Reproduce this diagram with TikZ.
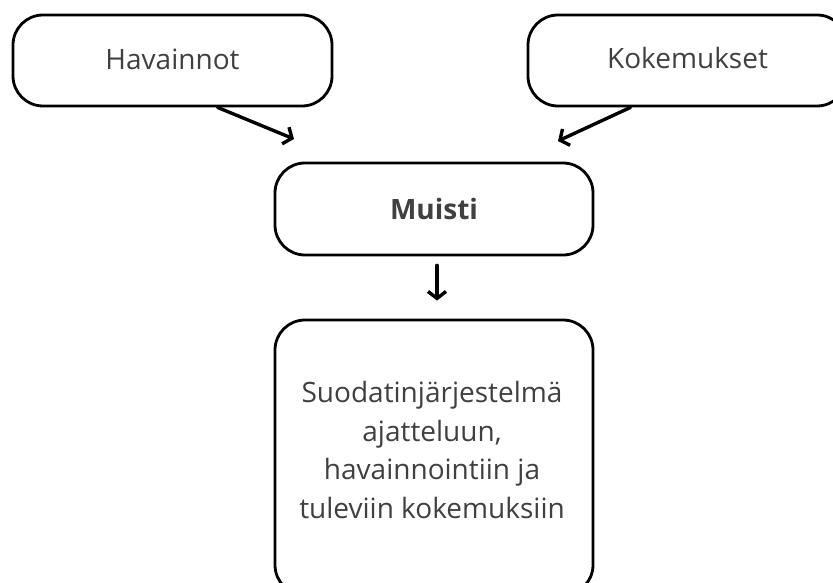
\documentclass[tikz,border=0pt]{standalone}
\usepackage{fontspec}
\setmainfont{Open Sans}
\usetikzlibrary{arrows.meta,calc}
\definecolor{txt}{RGB}{64,64,64}
\tikzset{
  rbox/.style={draw=black, line width=2.8pt, rounded corners=30pt, fill=white, inner sep=0pt, text=txt,
    font=\fontsize{28}{38.5}\selectfont},
  arr/.style={draw=black, line width=3.4pt, line cap=round, -{Straight Barb[length=7pt,width=18pt,line width=3.4pt]}},
  txtnode/.style={inner sep=0pt, text=txt, align=center, font=\fontsize{28}{38.5}\selectfont}
}
\begin{document}
\begin{tikzpicture}[x=1pt,y=-1pt]
\useasboundingbox (0,0) rectangle (833,583);
\clip (0,0) rectangle (833,583);
\fill[white] (0,0) rectangle (833,583);
\node[rbox, minimum width=319pt, minimum height=91pt] (hav) at (172.5,60.5) {\raisebox{2pt}{Havainnot}};
\node[rbox, minimum width=319pt, minimum height=91pt] (kok) at (687.5,60.5) {\raisebox{5pt}{Kokemukset}};
\node[rbox, minimum width=318pt, minimum height=92pt] (mui) at (434,209) {\bfseries Muisti};
\node[rbox, minimum width=318pt, minimum height=275pt] (suo) at (434,457.5) {};
\node[txtnode] (suotext) at (432,450) {Suodatinjärjestelmä\\ajatteluun,\\havainnointiin ja\\tuleviin kokemuksiin};
\coordinate (t1) at (294,139);
\coordinate (t2) at (558,141);
\draw[arr] ([xshift=45pt]hav.south) -- (t1);
\draw[arr] ([xshift=-57pt]kok.south) -- (t2);
\draw[arr] ([xshift=3pt,yshift=-9pt]mui.south) -- ([xshift=3pt,yshift=18pt]suo.north);
\end{tikzpicture}
\end{document}
